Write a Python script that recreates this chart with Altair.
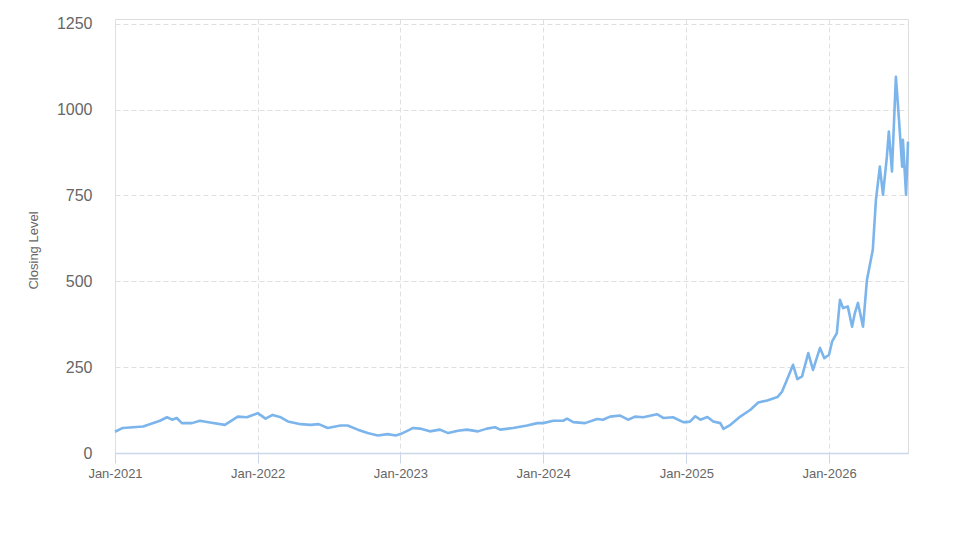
import altair as alt
import pandas as pd

dates = [
    "2021-01-01", "2021-01-21", "2021-03-14", "2021-04-26", "2021-05-14", "2021-05-27",
    "2021-06-08", "2021-06-21", "2021-07-17", "2021-08-06", "2021-09-01", "2021-10-09",
    "2021-11-11", "2021-12-04", "2022-01-01", "2022-01-21", "2022-02-08", "2022-03-01",
    "2022-03-19", "2022-04-21", "2022-05-16", "2022-06-06", "2022-06-29", "2022-08-01",
    "2022-08-19", "2022-09-14", "2022-10-09", "2022-11-04", "2022-11-29", "2022-12-20",
    "2023-01-01", "2023-01-25", "2023-02-02", "2023-02-20", "2023-03-17", "2023-04-12",
    "2023-05-03", "2023-05-28", "2023-06-20", "2023-07-18", "2023-08-10", "2023-08-31",
    "2023-09-13", "2023-10-16", "2023-11-21", "2023-12-17", "2024-01-01", "2024-01-27",
    "2024-02-21", "2024-03-02", "2024-03-18", "2024-04-17", "2024-05-18", "2024-06-02",
    "2024-06-20", "2024-07-16", "2024-08-05", "2024-08-23", "2024-09-13", "2024-10-18",
    "2024-11-03", "2024-11-28", "2024-12-24", "2025-01-01", "2025-01-11", "2025-01-24",
    "2025-02-06", "2025-02-24", "2025-03-11", "2025-03-29", "2025-04-06", "2025-04-24",
    "2025-05-19", "2025-06-14", "2025-07-04", "2025-07-27", "2025-08-22", "2025-09-03",
    "2025-09-19", "2025-10-01", "2025-10-12", "2025-10-24", "2025-11-09", "2025-11-21",
    "2025-12-09", "2025-12-20", "2026-01-01", "2026-01-09", "2026-01-21", "2026-01-29",
    "2026-02-06", "2026-02-18", "2026-03-01", "2026-03-08", "2026-03-16", "2026-03-29",
    "2026-04-08", "2026-04-23", "2026-05-01", "2026-05-11", "2026-05-19", "2026-05-29",
    "2026-06-03", "2026-06-11", "2026-06-21", "2026-06-29", "2026-07-07", "2026-07-09",
    "2026-07-17", "2026-07-22",
]
closing = [
    62, 73, 77, 94, 104, 97,
    102, 87, 87, 94, 89, 82,
    106, 104, 116, 100, 111, 104,
    92, 84, 82, 84, 73, 80,
    80, 68, 58, 51, 55, 51,
    55, 68, 73, 71, 63, 68,
    58, 65, 68, 63, 71, 75,
    68, 73, 80, 87, 87, 94,
    94, 100, 90, 87, 99, 97,
    106, 109, 97, 106, 104, 113,
    102, 104, 90, 90, 92, 107,
    97, 105, 92, 87, 70, 82,
    106, 126, 147, 153, 163, 179,
    223, 257, 215, 223, 291, 242,
    306, 276, 286, 325, 349, 446,
    422, 427, 368, 407, 437, 368,
    504, 592, 737, 834, 752, 863,
    936, 820, 1096, 970, 834, 912,
    752, 907,
]
y_ticks = [0, 250, 500, 750, 1000, 1250]
year_ticks = [2021, 2022, 2023, 2024, 2025, 2026]

df = pd.DataFrame({"date": dates, "close": closing})

font = "Liberation Sans"

chart = alt.Chart(df).mark_line(
    color="#7cb5ec", strokeWidth=2.6, interpolate="linear", strokeJoin="round"
).encode(
    x=alt.X(
        "date:T",
        scale=alt.Scale(
            type="utc",
            domain=[
                alt.DateTime(year=2021, month=1, date=1, utc=True),
                alt.DateTime(year=2026, month=7, date=22, utc=True),
            ],
        ),
        axis=alt.Axis(
            title=None,
            values=[alt.DateTime(year=y, month=1, date=1, utc=True) for y in year_ticks],
            format="%b-%Y",
            labelFont=font,
            labelFontSize=13,
            labelColor="#666666",
            labelPadding=4,
            tickSize=10,
            tickColor="#ccd6eb",
            domainColor="#ccd6eb",
            domainWidth=1.5,
            grid=True,
            gridColor="#e0e0e0",
            gridDash=[5, 3],
            labelFlush=False,
        ),
    ),
    y=alt.Y(
        "close:Q",
        scale=alt.Scale(domain=[0, 1264], nice=False),
        axis=alt.Axis(
            title="Closing Level",
            values=y_ticks,
            format="d",
            labelFont=font,
            labelFontSize=16,
            labelColor="#666666",
            labelPadding=23,
            ticks=False,
            domain=False,
            grid=True,
            gridColor="#e0e0e0",
            gridDash=[5, 3],
            titleFont=font,
            titleFontSize=13,
            titleFontWeight="normal",
            titleColor="#666666",
            titleX=-82,
            titleY=231,
            titleAngle=270,
            titleAlign="center",
            titleBaseline="middle",
        ),
    ),
).properties(
    width=793,
    height=434,
    autosize=alt.AutoSizeParams(type="none"),
    padding={"left": 115, "top": 19, "right": 66, "bottom": 94},
).configure_view(
    stroke="#d0d0d0", strokeWidth=2
).configure(background="white")

chart.save("out.html", embed_options={"renderer": "svg", "actions": False})
